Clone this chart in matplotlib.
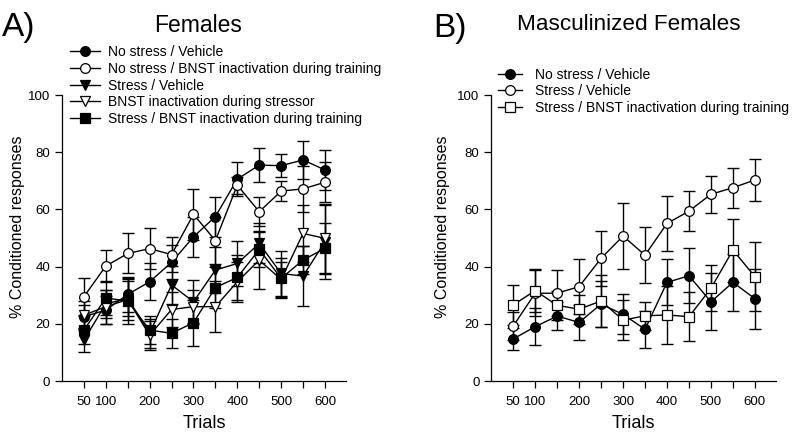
import matplotlib
matplotlib.use("Agg")
import matplotlib.pyplot as plt
import numpy as np

plt.rcParams['font.family'] = ['Liberation Sans', 'DejaVu Sans']

trials = [50, 100, 150, 200, 250, 300, 350, 400, 450, 500, 550, 600]
xtick_label_pos = [50, 100, 200, 300, 400, 500, 600]

# Panel A: Females
a_labels = ['No stress / Vehicle',
            'No stress / BNST inactivation during training',
            'Stress / Vehicle',
            'BNST inactivation during stressor',
            'Stress / BNST inactivation during training']
a_ns_veh = [22.5, 24.8, 30.3, 34.7, 41.5, 50.4, 57.5, 70.6, 75.5, 75.3, 77.3, 73.8]
a_ns_veh_err = [4, 5, 6, 6.5, 6, 7, 7, 6, 6, 4, 6.5, 7]
a_ns_bnst = [29.5, 40.2, 44.6, 46.3, 44.2, 58.3, 49.1, 68.5, 59.2, 66.4, 67.2, 69.5]
a_ns_bnst_err = [6.5, 5.5, 7, 7.3, 6, 9, 8.3, 3, 5, 3.5, 8, 7]
a_s_veh = [14.3, 27.0, 28.9, 16.7, 33.6, 27.7, 38.8, 41.1, 48.1, 37.6, 36.7, 48.7]
a_s_veh_err = [4, 5, 6, 5, 6.5, 7.5, 8, 8, 7, 8, 10.5, 13]
a_bnst_stress = [23.0, 26.0, 28.5, 16.0, 25.0, 26.0, 26.0, 34.7, 42.3, 35.5, 51.6, 49.9]
a_bnst_stress_err = [5, 6, 7, 5, 6, 6, 9, 7, 10, 6, 10, 12]
a_s_bnst = [17.8, 29.0, 28.0, 17.8, 16.7, 20.4, 32.7, 36.2, 46.0, 35.9, 42.3, 46.4]
a_s_bnst_err = [5, 6, 8, 5, 5, 8, 7, 8, 6, 7, 5, 9]

# Panel B: Masculinized Females
b_labels = ['No stress / Vehicle',
            'Stress / Vehicle',
            'Stress / BNST inactivation during training']
b_ns_veh = [14.7, 19.0, 22.7, 20.5, 26.9, 23.3, 18.1, 34.5, 36.8, 27.7, 34.5, 28.8]
b_ns_veh_err = [4, 6.5, 5, 6, 8, 7, 6.5, 8, 9.6, 10, 10, 10.5]
b_s_veh = [19.2, 30.7, 30.7, 33.0, 42.9, 50.7, 44.0, 55.1, 59.4, 65.3, 67.6, 70.3]
b_s_veh_err = [5, 8, 8, 9.5, 9.7, 11.7, 9.8, 9.6, 7, 6.5, 7, 7.5]
b_s_bnst = [26.6, 31.6, 26.5, 25.1, 28.0, 21.3, 22.8, 23.1, 22.5, 32.4, 45.8, 36.5]
b_s_bnst_err = [7, 7.5, 5, 5, 9, 7, 5, 10, 8.5, 8, 11, 12]

fig = plt.figure(figsize=(8.0, 4.41), dpi=100)
axA = fig.add_axes([0.0775, 0.136, 0.355, 0.6485])
axB = fig.add_axes([0.614, 0.136, 0.356, 0.6485])


def draw(ax, series, legend_loc, hl, htp, ylab_x):
    handles = []
    for vals, errs, marker, face, label in series:
        ax.errorbar(trials, vals, yerr=errs, fmt='none', ecolor='black',
                    elinewidth=1.0, capsize=4, capthick=1.0, zorder=2)
        h, = ax.plot(trials, vals, color='black', lw=1.0, marker=marker,
                     markersize=7, markerfacecolor=face,
                     markeredgecolor='black', markeredgewidth=0.9,
                     label=label, zorder=3)
        handles.append(h)
    ax.set_xlim(0, 648)
    ax.set_ylim(0, 100)
    ax.set_yticks([0, 20, 40, 60, 80, 100])
    ax.set_xticks(trials)
    ax.set_xticklabels([str(t) if t in xtick_label_pos else '' for t in trials])
    ax.spines['top'].set_visible(False)
    ax.spines['right'].set_visible(False)
    for s in ('left', 'bottom'):
        ax.spines[s].set_linewidth(0.9)
    ax.tick_params(axis='both', direction='out', length=5, width=0.9,
                   labelsize=9.5, colors='black')
    ax.tick_params(axis='x', pad=6)
    ax.set_xlabel('Trials', fontsize=13, labelpad=5)
    ax.set_ylabel('% Conditioned responses', fontsize=11.5)
    ax.yaxis.set_label_coords(ylab_x, 0.54)
    leg = ax.legend(handles=handles, loc='lower left',
                    bbox_to_anchor=legend_loc, bbox_transform=fig.transFigure,
                    frameon=False, fontsize=10, handlelength=hl,
                    handletextpad=htp, labelspacing=0.2, borderpad=0,
                    borderaxespad=0)
    return leg


draw(axA, [
    (a_ns_veh, a_ns_veh_err, 'o', 'black', a_labels[0]),
    (a_ns_bnst, a_ns_bnst_err, 'o', 'white', a_labels[1]),
    (a_s_veh, a_s_veh_err, 'v', 'black', a_labels[2]),
    (a_bnst_stress, a_bnst_stress_err, 'v', 'white', a_labels[3]),
    (a_s_bnst, a_s_bnst_err, 's', 'black', a_labels[4]),
], (0.087, 0.714), 2.2, 0.55, -0.13)

draw(axB, [
    (b_ns_veh, b_ns_veh_err, 'o', 'black', b_labels[0]),
    (b_s_veh, b_s_veh_err, 'o', 'white', b_labels[1]),
    (b_s_bnst, b_s_bnst_err, 's', 'white', b_labels[2]),
], (0.623, 0.739), 1.7, 0.9, -0.145)

fig.text(0.003, 0.938, 'A)', fontsize=24, va='center', ha='left')
fig.text(0.2475, 0.943, 'Females', fontsize=16.5, va='center', ha='center')
fig.text(0.541, 0.936, 'B)', fontsize=24, va='center', ha='left')
fig.text(0.786, 0.945, 'Masculinized Females', fontsize=16.2, va='center', ha='center')

fig.savefig('out.png', dpi=100)
